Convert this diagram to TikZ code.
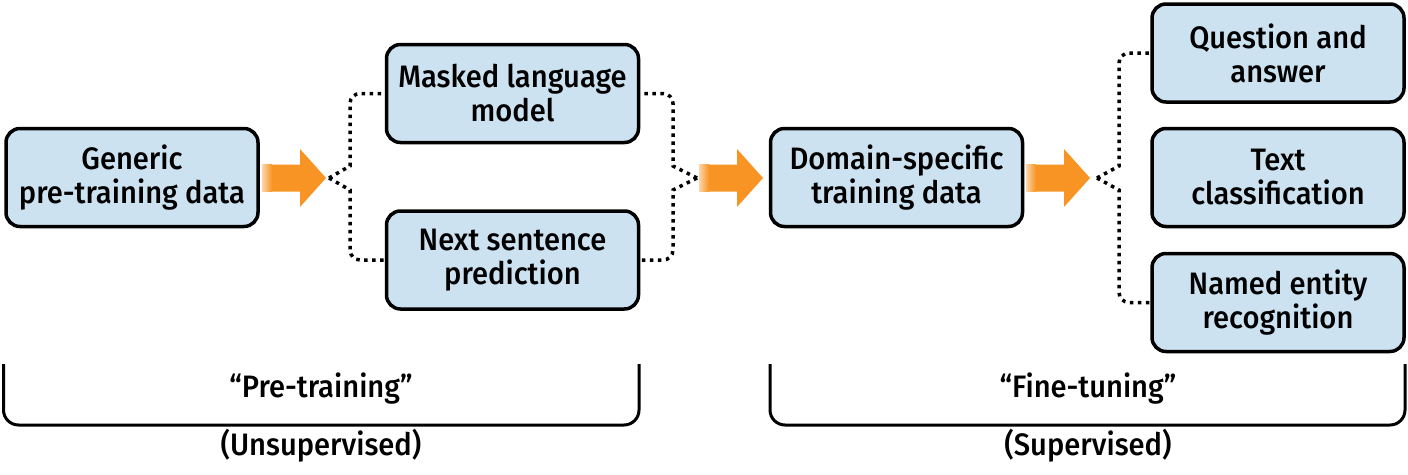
\documentclass[tikz,border=0pt]{standalone}
\usepackage{fontspec}
\setmainfont{Fira Sans}[UprightFont={* Medium}, FakeStretch=0.94]
\definecolor{boxblue}{RGB}{204,226,240}
\definecolor{arrorange}{RGB}{247,148,35}
\definecolor{fadeorange}{RGB}{252,214,170}
\tikzset{
  box/.style={draw, line width=3.5pt, rounded corners=14pt, fill=boxblue,
    minimum width=252pt, minimum height=98pt, align=center, inner sep=0pt,
    font=\fontsize{31}{34}\selectfont},
  dotline/.style={line width=3.5pt, dash pattern=on 3.5pt off 4.5pt},
  bracket/.style={line width=3pt, rounded corners=15pt},
  lbl/.style={anchor=base, inner sep=0pt, font=\fontsize{31}{34}\selectfont}
}
\newcommand\myblockarrow[1]{%
  \begin{scope}[shift={(#1,178)}]
    \fill[arrorange] (8,-13.5) -- (38,-13.5) -- (38,-29) -- (64,0) -- (38,29) -- (38,13.5) -- (8,13.5) -- cycle;
    \shade[left color=fadeorange, right color=arrorange] (0,-13.5) rectangle (10,13.5);
  \end{scope}}
\begin{document}
\begin{tikzpicture}[x=1pt,y=-1pt]
\useasboundingbox (0,0) rectangle (1408,474);
% boxes
\node[box] (gen) at (132,177.5) {Generic\\pre-training data};
\node[box] (mlm) at (512.5,93.5) {Masked language\\model};
\node[box] (nsp) at (512.5,260) {Next sentence\\prediction};
\node[box] (dom) at (896.5,177.5) {Domain-specific\\training data};
\node[box] (qa)  at (1278,53) {Question and\\answer};
\node[box] (tc)  at (1278,177.5) {Text\\classification};
\node[box] (ner) at (1278,302.5) {Named entity\\recognition};
% block arrows
\myblockarrow{262}
\myblockarrow{699}
\myblockarrow{1026}
% fork coordinates
\coordinate (f1) at (329,178);
\coordinate (f2) at (697,178);
\coordinate (f3) at (1097,178);
% dotted connectors
\draw[dotline] (f1) -- (350,166) [rounded corners=10pt] |- (mlm.west);
\draw[dotline] (f1) -- (350,190) [rounded corners=10pt] |- (nsp.west);
\draw[dotline] (f2) -- (673,166) [rounded corners=10pt] |- (mlm.east);
\draw[dotline] (f2) -- (673,190) [rounded corners=10pt] |- (nsp.east);
\draw[dotline] (f3) -- (1119,166) [rounded corners=10pt] |- (qa.west);
\draw[dotline] (f3) -- (1119,190) [rounded corners=10pt] |- (ner.west);
% brackets
\coordinate (b1a) at (3.5,364);
\coordinate (b1b) at (639,364);
\coordinate (b2a) at (770,364);
\coordinate (b2b) at (1405,364);
\draw[bracket] (b1a) |- (321,425) -| (b1b);
\draw[bracket] (b2a) |- (1088,425) -| (b2b);
% labels
\node[lbl] (pre) at (321,397) {“Pre-training”};
\node[lbl] (uns) at (321,455) {(Unsupervised)};
\node[lbl] (fine) at (1088,397) {“Fine-tuning”};
\node[lbl] (sup) at (1088,455) {(Supervised)};
\end{tikzpicture}
\end{document}
